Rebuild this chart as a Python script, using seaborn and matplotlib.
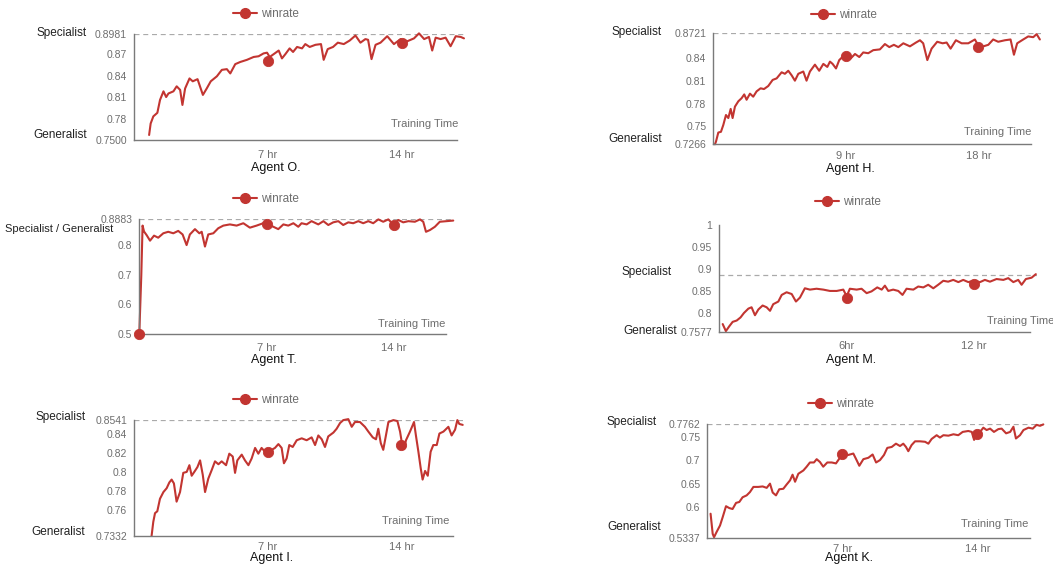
import numpy as np
import pandas as pd
import matplotlib
matplotlib.use('Agg')
import matplotlib.pyplot as plt
from matplotlib.lines import Line2D
import seaborn as sns

# (training hour, winrate)
agent_o = [(0.79, 0.757), (0.87, 0.773), (1.01, 0.783), (1.22, 0.788), (1.36, 0.806), (1.54, 0.818),
           (1.68, 0.810), (1.80, 0.815), (2.06, 0.818), (2.23, 0.825), (2.41, 0.820), (2.53, 0.799),
           (2.67, 0.822), (2.90, 0.836), (3.07, 0.832), (3.32, 0.835), (3.60, 0.813), (3.80, 0.822),
           (4.01, 0.832), (4.33, 0.839), (4.59, 0.848), (4.85, 0.849), (5.03, 0.843), (5.29, 0.856),
           (5.55, 0.859), (5.90, 0.862), (6.25, 0.866), (6.51, 0.867), (6.77, 0.871), (6.95, 0.872),
           (7.09, 0.866), (7.30, 0.870), (7.56, 0.875), (7.73, 0.864), (7.91, 0.870), (8.13, 0.878),
           (8.31, 0.873), (8.52, 0.880), (8.78, 0.878), (8.95, 0.884), (9.18, 0.880), (9.48, 0.883),
           (9.77, 0.884), (9.91, 0.862), (10.12, 0.877), (10.40, 0.880), (10.65, 0.886), (10.96, 0.884),
           (11.27, 0.889), (11.57, 0.896), (11.83, 0.886), (12.09, 0.891), (12.23, 0.890), (12.41, 0.863),
           (12.62, 0.883), (12.88, 0.886), (13.23, 0.895), (13.58, 0.884), (13.93, 0.891), (14.28, 0.888),
           (14.63, 0.892), (14.89, 0.899), (15.16, 0.891), (15.41, 0.894), (15.58, 0.875), (15.76, 0.893),
           (16.02, 0.891), (16.28, 0.893), (16.54, 0.881), (16.81, 0.895), (17.07, 0.894), (17.24, 0.892)]
marks_o = [(7, 0.860), (14, 0.886)]

agent_h = [(0.11, 0.7266), (0.18, 0.730), (0.34, 0.742), (0.52, 0.743), (0.68, 0.752), (0.86, 0.765),
           (1.02, 0.761), (1.18, 0.773), (1.31, 0.761), (1.47, 0.776), (1.70, 0.783), (1.92, 0.787),
           (2.10, 0.792), (2.26, 0.785), (2.49, 0.793), (2.71, 0.789), (2.94, 0.796), (3.21, 0.800),
           (3.44, 0.799), (3.73, 0.803), (4.03, 0.811), (4.30, 0.813), (4.64, 0.821), (4.86, 0.819),
           (5.09, 0.823), (5.32, 0.817), (5.54, 0.810), (5.77, 0.819), (6.11, 0.822), (6.33, 0.810),
           (6.56, 0.822), (6.90, 0.831), (7.19, 0.823), (7.47, 0.832), (7.74, 0.828), (7.92, 0.835),
           (8.10, 0.832), (8.33, 0.826), (8.55, 0.837), (8.82, 0.842), (9.05, 0.844), (9.32, 0.839),
           (9.62, 0.845), (9.91, 0.841), (10.18, 0.847), (10.52, 0.846), (10.86, 0.850), (11.31, 0.851),
           (11.65, 0.858), (11.95, 0.854), (12.26, 0.857), (12.56, 0.854), (12.90, 0.859), (13.35, 0.855),
           (13.76, 0.860), (14.03, 0.863), (14.25, 0.859), (14.53, 0.837), (14.82, 0.852), (15.20, 0.861),
           (15.57, 0.859), (15.84, 0.860), (16.11, 0.852), (16.47, 0.863), (16.86, 0.859), (17.31, 0.859),
           (17.76, 0.864), (18.05, 0.854), (18.33, 0.855), (18.67, 0.857), (19.00, 0.864), (19.34, 0.861),
           (19.80, 0.863), (20.18, 0.864), (20.41, 0.844), (20.63, 0.859), (21.04, 0.864), (21.38, 0.868),
           (21.72, 0.867), (21.95, 0.871), (22.17, 0.864)]
marks_h = [(9, 0.8424), (18, 0.8537)]

agent_t = [(0.0, 0.500), (0.11, 0.700), (0.18, 0.867), (0.26, 0.847), (0.40, 0.835), (0.59, 0.816),
           (0.81, 0.833), (1.04, 0.826), (1.32, 0.841), (1.59, 0.846), (1.87, 0.841), (2.14, 0.849),
           (2.38, 0.837), (2.60, 0.801), (2.78, 0.837), (3.06, 0.855), (3.30, 0.841), (3.43, 0.846),
           (3.61, 0.796), (3.79, 0.837), (4.07, 0.841), (4.34, 0.858), (4.62, 0.867), (4.98, 0.871),
           (5.35, 0.867), (5.72, 0.875), (6.08, 0.860), (6.45, 0.867), (6.81, 0.875), (7.09, 0.871),
           (7.37, 0.863), (7.64, 0.855), (7.92, 0.871), (8.19, 0.867), (8.47, 0.875), (8.74, 0.863),
           (8.92, 0.875), (9.20, 0.871), (9.47, 0.882), (9.84, 0.871), (10.12, 0.882), (10.39, 0.869),
           (10.66, 0.878), (10.94, 0.882), (11.21, 0.869), (11.49, 0.878), (11.76, 0.875), (12.04, 0.882),
           (12.31, 0.875), (12.59, 0.882), (12.86, 0.875), (13.14, 0.888), (13.41, 0.880), (13.69, 0.888),
           (13.96, 0.871), (14.24, 0.886), (14.51, 0.878), (14.79, 0.882), (15.15, 0.880), (15.43, 0.888),
           (15.61, 0.880), (15.76, 0.846), (15.98, 0.852), (16.25, 0.863), (16.52, 0.880), (16.89, 0.882),
           (17.26, 0.884)]
marks_t = [(0, 0.5), (7, 0.8714), (14, 0.869)]

agent_m = [(0.16, 0.775), (0.31, 0.759), (0.47, 0.770), (0.63, 0.780), (0.82, 0.783), (1.00, 0.790),
           (1.16, 0.800), (1.37, 0.810), (1.52, 0.813), (1.68, 0.795), (1.84, 0.808), (2.04, 0.817),
           (2.23, 0.813), (2.39, 0.805), (2.54, 0.820), (2.78, 0.826), (2.94, 0.841), (3.17, 0.847),
           (3.41, 0.843), (3.61, 0.826), (3.80, 0.835), (4.03, 0.856), (4.27, 0.853), (4.58, 0.855),
           (4.90, 0.853), (5.21, 0.850), (5.53, 0.850), (5.84, 0.853), (6.00, 0.838), (6.15, 0.855),
           (6.47, 0.853), (6.70, 0.855), (6.94, 0.845), (7.17, 0.849), (7.44, 0.858), (7.65, 0.853),
           (7.80, 0.862), (7.96, 0.850), (8.19, 0.853), (8.43, 0.850), (8.63, 0.841), (8.82, 0.855),
           (9.14, 0.853), (9.37, 0.860), (9.61, 0.858), (9.84, 0.864), (10.08, 0.856), (10.31, 0.864),
           (10.55, 0.873), (10.78, 0.871), (11.02, 0.875), (11.26, 0.870), (11.49, 0.875), (11.73, 0.870),
           (11.96, 0.873), (12.28, 0.870), (12.51, 0.875), (12.75, 0.871), (13.06, 0.877), (13.38, 0.875),
           (13.61, 0.879), (13.85, 0.870), (14.08, 0.875), (14.24, 0.864), (14.44, 0.877), (14.71, 0.880),
           (14.91, 0.888)]
marks_m = [(6, 0.834), (12, 0.865)]

agent_i = [(0.92, 0.7332), (1.01, 0.748), (1.10, 0.757), (1.22, 0.759), (1.36, 0.772), (1.54, 0.779),
           (1.71, 0.783), (1.85, 0.789), (1.97, 0.792), (2.09, 0.788), (2.23, 0.769), (2.41, 0.779),
           (2.58, 0.799), (2.76, 0.800), (2.90, 0.807), (3.02, 0.796), (3.19, 0.801), (3.32, 0.805),
           (3.46, 0.812), (3.60, 0.797), (3.72, 0.779), (3.89, 0.793), (4.07, 0.802), (4.24, 0.811),
           (4.42, 0.808), (4.59, 0.811), (4.82, 0.807), (4.99, 0.819), (5.17, 0.816), (5.29, 0.799),
           (5.41, 0.812), (5.64, 0.818), (5.81, 0.812), (5.99, 0.807), (6.16, 0.814), (6.34, 0.825),
           (6.51, 0.819), (6.68, 0.825), (6.86, 0.821), (7.03, 0.823), (7.21, 0.823), (7.38, 0.825),
           (7.56, 0.829), (7.73, 0.825), (7.85, 0.809), (7.99, 0.814), (8.13, 0.828), (8.31, 0.826),
           (8.52, 0.833), (8.78, 0.835), (9.04, 0.833), (9.30, 0.836), (9.48, 0.828), (9.65, 0.838),
           (9.83, 0.834), (10.00, 0.826), (10.17, 0.837), (10.44, 0.841), (10.61, 0.845), (10.79, 0.851),
           (10.96, 0.854), (11.22, 0.855), (11.40, 0.847), (11.57, 0.852), (11.83, 0.852), (12.09, 0.847),
           (12.27, 0.842), (12.50, 0.836), (12.67, 0.834), (12.79, 0.845), (12.92, 0.830), (13.05, 0.823),
           (13.19, 0.838), (13.32, 0.852), (13.58, 0.854), (13.79, 0.853), (13.93, 0.842), (14.01, 0.832),
           (14.14, 0.824), (14.24, 0.833), (14.45, 0.842), (14.66, 0.852), (14.76, 0.838), (14.89, 0.821),
           (15.01, 0.804), (15.11, 0.792), (15.24, 0.801), (15.38, 0.796), (15.53, 0.821), (15.67, 0.828),
           (15.85, 0.828), (15.99, 0.840), (16.20, 0.842), (16.46, 0.847), (16.63, 0.838), (16.81, 0.844),
           (16.93, 0.854), (17.03, 0.850), (17.21, 0.849)]
marks_i = [(7, 0.821), (14, 0.828)]

agent_k = [(0.17, 0.586), (0.28, 0.543), (0.35, 0.536), (0.48, 0.547), (0.66, 0.561), (0.80, 0.579),
           (0.97, 0.602), (1.14, 0.598), (1.31, 0.596), (1.49, 0.609), (1.66, 0.611), (1.83, 0.621),
           (2.04, 0.625), (2.21, 0.632), (2.39, 0.643), (2.64, 0.643), (2.87, 0.644), (3.08, 0.641),
           (3.25, 0.650), (3.39, 0.631), (3.56, 0.625), (3.73, 0.638), (3.94, 0.639), (4.11, 0.648),
           (4.29, 0.657), (4.42, 0.669), (4.55, 0.654), (4.72, 0.671), (4.98, 0.678), (5.15, 0.686),
           (5.32, 0.695), (5.53, 0.695), (5.67, 0.702), (5.84, 0.696), (6.01, 0.686), (6.22, 0.695),
           (6.45, 0.695), (6.67, 0.693), (6.84, 0.703), (7.05, 0.712), (7.31, 0.711), (7.57, 0.714),
           (7.74, 0.700), (7.88, 0.688), (8.09, 0.702), (8.35, 0.705), (8.57, 0.712), (8.75, 0.695),
           (8.95, 0.700), (9.16, 0.711), (9.33, 0.726), (9.56, 0.728), (9.78, 0.735), (9.99, 0.730),
           (10.16, 0.735), (10.30, 0.728), (10.42, 0.719), (10.59, 0.732), (10.77, 0.740), (11.03, 0.740),
           (11.29, 0.739), (11.46, 0.735), (11.63, 0.745), (11.89, 0.753), (12.06, 0.748), (12.24, 0.753),
           (12.50, 0.752), (12.76, 0.755), (13.01, 0.753), (13.24, 0.760), (13.53, 0.762), (13.71, 0.760),
           (13.83, 0.743), (13.96, 0.755), (14.14, 0.760), (14.31, 0.769), (14.48, 0.764), (14.66, 0.767),
           (14.86, 0.760), (15.09, 0.766), (15.26, 0.767), (15.49, 0.757), (15.70, 0.760), (15.87, 0.771),
           (16.00, 0.746), (16.21, 0.753), (16.39, 0.764), (16.65, 0.769), (16.87, 0.767), (17.07, 0.775),
           (17.25, 0.773), (17.42, 0.776)]
marks_k = [(7, 0.712), (14, 0.755)]

yticks_o = [0.75, 0.78, 0.81, 0.84, 0.87, 0.8981]
ylabels_o = ['0.7500', '0.78', '0.81', '0.84', '0.87', '0.8981']
yticks_h = [0.7266, 0.75, 0.78, 0.81, 0.84, 0.8721]
ylabels_h = ['0.7266', '0.75', '0.78', '0.81', '0.84', '0.8721']
yticks_t = [0.5, 0.6, 0.7, 0.8, 0.8883]
ylabels_t = ['0.5', '0.6', '0.7', '0.8', '0.8883']
yticks_m = [0.7577, 0.8, 0.85, 0.9, 0.95, 1.0]
ylabels_m = ['0.7577', '0.8', '0.85', '0.9', '0.95', '1']
yticks_i = [0.7332, 0.76, 0.78, 0.8, 0.82, 0.84, 0.8541]
ylabels_i = ['0.7332', '0.76', '0.78', '0.8', '0.82', '0.84', '0.8541']
yticks_k = [0.5337, 0.6, 0.65, 0.7, 0.75, 0.7762]
ylabels_k = ['0.5337', '0.6', '0.65', '0.7', '0.75', '0.7762']

RED = '#c23531'
AXIS = '#7a7a7a'
TXT = '#6e6e6e'
W, H = 1053, 564

sns.set_style('white')
plt.rcParams['font.family'] = ['Liberation Sans', 'DejaVu Sans']

fig = plt.figure(figsize=(W / 100, H / 100), dpi=100)


def fx(x):
    return x / W


def fy(y):
    return 1 - y / H


def draw(p):
    left, top, bottom, px_hr = p['box']
    xmax, xend = p['xmax'], p['xend']
    ax = fig.add_axes([fx(left), fy(bottom), xmax * px_hr / W, (bottom - top) / H])
    df = pd.DataFrame(p['data'], columns=['hr', 'winrate'])
    mk = pd.DataFrame(p['marks'], columns=['hr', 'winrate'])
    ax.plot([0, xmax], [p['spec'], p['spec']], ls=(0, (4, 3)), color='#aaaaaa', lw=0.9)
    sns.lineplot(data=df, x='hr', y='winrate', ax=ax, color=RED, lw=1.5, clip_on=False)
    sns.scatterplot(data=mk, x='hr', y='winrate', ax=ax, color=RED, s=55, edgecolor=RED,
                    zorder=5, clip_on=False)
    ax.set_xlim(0, xmax)
    ax.set_ylim(*p['ylim'])
    ax.set_xlabel('')
    ax.set_ylabel('')
    ax.set_yticks(p['yticks'], p['ylabels'])
    ax.set_xticks(p['xticks'], p['xlabels'])
    for s in ['top', 'right']:
        ax.spines[s].set_visible(False)
    for s in ['left', 'bottom']:
        ax.spines[s].set_color(AXIS)
        ax.spines[s].set_linewidth(1)
    ax.spines['bottom'].set_bounds(0, xend)
    ax.tick_params(axis='y', length=3.5, width=1, color=AXIS, pad=1.5, labelsize=7.5, labelcolor=TXT)
    ax.tick_params(axis='x', length=3.5, width=1, color=AXIS, pad=p['xpad'], labelsize=8,
                   labelcolor=TXT)
    ax.patch.set_alpha(0)

    handle = Line2D([], [], color=RED, lw=1.5, marker='o', ms=7)
    lx, ly = p['legend']
    fig.legend([handle], ['winrate'], loc='center left', bbox_to_anchor=(fx(lx), fy(ly)),
               frameon=False, fontsize=8.5, labelcolor=TXT, handlelength=2.0,
               handletextpad=0.35, borderpad=0, borderaxespad=0)
    for label, x, y, ha, size in p['side']:
        fig.text(fx(x), fy(y), label, ha=ha, va='center', fontsize=size, color='#222222')
    tx, ty, tha = p['train']
    fig.text(fx(tx), fy(ty), 'Training Time', ha=tha, va='center', fontsize=8, color=TXT)
    nx, ny = p['name_pos']
    fig.text(fx(nx), fy(ny), p['name'], ha='center', va='center', fontsize=9, color='#111111')


panels = [
    dict(name='Agent O.', data=agent_o, marks=marks_o, box=(134, 34, 140, 19.14), xmax=17.3, xend=16.86,
         ylim=(0.75, 0.8981), yticks=yticks_o, ylabels=ylabels_o, spec=0.8981,
         xticks=[7, 14], xlabels=['7 hr', '14 hr'], xpad=3.5, legend=(233, 14),
         side=[('Specialist', 87, 33, 'right', 8.5), ('Generalist', 87, 135, 'right', 8.5)],
         train=(458, 124, 'right'), name_pos=(276, 168)),
    dict(name='Agent H.', data=agent_h, marks=marks_h, box=(713.3, 33.3, 144.3, 14.73), xmax=22.25,
         xend=21.6, ylim=(0.7266, 0.8721), yticks=yticks_h, ylabels=ylabels_h, spec=0.8721,
         xticks=[9, 18], xlabels=['9 hr', '18 hr'], xpad=1.5, legend=(811, 15),
         side=[('Specialist', 662, 32, 'right', 8.5), ('Generalist', 662, 139, 'right', 8.5)],
         train=(1031, 132, 'right'), name_pos=(850, 169)),
    dict(name='Agent T.', data=agent_t, marks=marks_t, box=(139.3, 219.3, 334, 18.19), xmax=17.3,
         xend=16.86, ylim=(0.5, 0.8883), yticks=yticks_t, ylabels=ylabels_t, spec=0.8883,
         xticks=[7, 14], xlabels=['7 hr', '14 hr'], xpad=3, legend=(233, 199),
         side=[('Specialist / Generalist', 113, 229, 'right', 8)],
         train=(445, 324, 'right'), name_pos=(274, 360)),
    dict(name='Agent M.', data=agent_m, marks=marks_m, box=(719.3, 224.7, 331.7, 21.23), xmax=14.95,
         xend=14.63, ylim=(0.7577, 1.0), yticks=yticks_m, ylabels=ylabels_m, spec=0.885,
         xticks=[6, 12], xlabels=['6hr', '12 hr'], xpad=3.5, legend=(815, 202),
         side=[('Specialist', 672, 272, 'right', 8.5), ('Generalist', 623, 331, 'left', 8.5)],
         train=(987, 321, 'left'), name_pos=(851, 360)),
    dict(name='Agent I.', data=agent_i, marks=marks_i, box=(134, 420, 536, 19.1), xmax=17.25,
         xend=16.72, ylim=(0.7332, 0.8541), yticks=yticks_i, ylabels=ylabels_i, spec=0.8541,
         xticks=[7, 14], xlabels=['7 hr', '14 hr'], xpad=1.0, legend=(233, 400),
         side=[('Specialist', 86, 417, 'right', 8.5), ('Generalist', 85, 532, 'right', 8.5)],
         train=(449, 521, 'right'), name_pos=(272, 557.5)),
    dict(name='Agent K.', data=agent_k, marks=marks_k, box=(707.3, 424.3, 538.3, 19.29), xmax=17.45,
         xend=16.73, ylim=(0.5337, 0.7762), yticks=yticks_k, ylabels=ylabels_k, spec=0.7762,
         xticks=[7, 14], xlabels=['7 hr', '14 hr'], xpad=0.3, legend=(808, 404),
         side=[('Specialist', 657, 422, 'right', 8.5), ('Generalist', 661, 527, 'right', 8.5)],
         train=(1028, 524, 'right'), name_pos=(849, 557.5)),
]

for p in panels:
    draw(p)

fig.savefig('out.png', dpi=100)
